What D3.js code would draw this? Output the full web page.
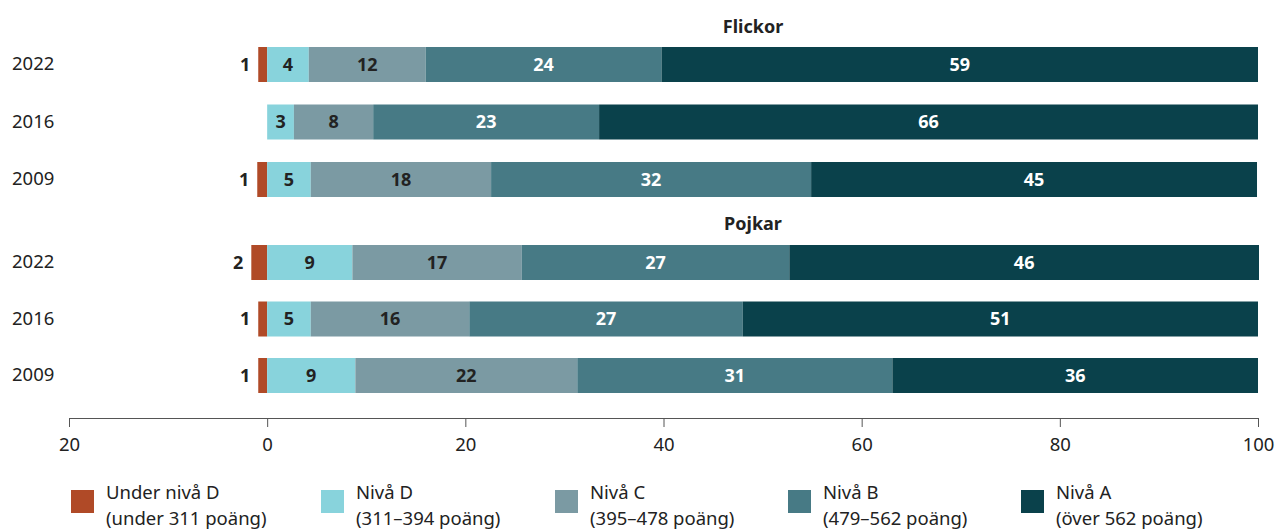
<!DOCTYPE html>
<html>
<head>
<meta charset="utf-8">
<script src="https://cdn.jsdelivr.net/npm/d3@7"></script>
<style>
    body { margin: 0; background: #fff; }
    svg { display: block; font-family: "Source Sans Pro", "Noto Sans", sans-serif; }
</style>
</head>
<body>
<div id="chart"></div>
<script>
// levels, left to right (first one is drawn to the left of zero)
const levels = ["Under nivå D", "Nivå D", "Nivå C", "Nivå B", "Nivå A"];
const levelRanges = ["(under 311 poäng)", "(311–394 poäng)", "(395–478 poäng)", "(479–562 poäng)", "(över 562 poäng)"];
const levelColors = ["#b04a27", "#88d3dc", "#7b9aa3", "#477a85", "#0a414b"];
const labelColors = ["#222", "#222", "#222", "#fff", "#fff"];

const years = ["2022", "2016", "2009"];
const groups = ["Flickor", "Pojkar"];

// bar lengths (per year: under D, D, C, B, A)
const flickorValues = [
    [0.9, 4.2, 11.8, 23.8, 60.2],
    [0, 2.7, 8.0, 22.8, 66.5],
    [1.0, 4.4, 18.2, 32.3, 45.0]
];
const pojkarValues = [
    [1.6, 8.6, 17.1, 27.0, 47.4],
    [0.9, 4.4, 16.0, 27.6, 52.0],
    [0.9, 8.9, 22.4, 31.8, 36.9]
];
// printed numbers
const flickorLabels = [
    ["1", "4", "12", "24", "59"],
    ["", "3", "8", "23", "66"],
    ["1", "5", "18", "32", "45"]
];
const pojkarLabels = [
    ["2", "9", "17", "27", "46"],
    ["1", "5", "16", "27", "51"],
    ["1", "9", "22", "31", "36"]
];
const xTicks = [-20, 0, 20, 40, 60, 80, 100];

const width = 1278, height = 529;
const barHeight = 35;
const fontSize = 18.5;

const svg = d3.select("#chart").append("svg")
    .attr("width", width)
    .attr("height", height);

const x = d3.scaleLinear().domain([-20, 100]).range([69, 1258]);

const groupScales = [
    d3.scalePoint().domain(years).range([64.5, 179.5]),
    d3.scalePoint().domain(years).range([262.5, 375.5])
];
const titleY = [26, 223];
const groupValues = [flickorValues, pojkarValues];
const groupLabels = [flickorLabels, pojkarLabels];

groups.forEach((g, gi) => {
    let y = groupScales[gi];

    svg.append("text")
        .attr("x", 753)
        .attr("y", titleY[gi])
        .attr("text-anchor", "middle")
        .attr("dominant-baseline", "central")
        .attr("font-size", 18)
        .attr("font-weight", 700)
        .attr("fill", "#222")
        .text(g);

    years.forEach((yr, ri) => {
        let vals = groupValues[gi][ri];
        let labs = groupLabels[gi][ri];
        let cy = y(yr);

        // build segments: under D goes left of zero, the rest stack right
        let segs = [];
        segs.push({ i: 0, x0: -vals[0], x1: 0 });
        let acc = 0;
        for (let i = 1; i < vals.length; i++) {
            segs.push({ i: i, x0: acc, x1: acc + vals[i] });
            acc += vals[i];
        }

        let row = svg.append("g");

        row.append("text")
            .attr("x", 12)
            .attr("y", cy - 2)
            .attr("dominant-baseline", "central")
            .attr("font-size", fontSize)
            .attr("fill", "#222")
            .text(yr);

        row.selectAll("rect")
            .data(segs.filter(d => d.x1 > d.x0))
            .enter().append("rect")
            .attr("x", d => x(d.x0))
            .attr("y", cy - barHeight / 2)
            .attr("width", d => x(d.x1) - x(d.x0))
            .attr("height", barHeight)
            .attr("fill", d => levelColors[d.i]);

        row.selectAll("text.val")
            .data(segs.filter(d => labs[d.i] !== ""))
            .enter().append("text")
            .attr("class", "val")
            .attr("x", d => d.i === 0 ? x(d.x0) - 8 : (x(d.x0) + x(d.x1)) / 2)
            .attr("y", cy - 1)
            .attr("text-anchor", d => d.i === 0 ? "end" : "middle")
            .attr("dominant-baseline", "central")
            .attr("font-size", 18)
            .attr("font-weight", 700)
            .attr("fill", d => labelColors[d.i])
            .text(d => labs[d.i]);
    });
});

// x axis
let axis = svg.append("g")
    .attr("transform", "translate(0,418)")
    .call(d3.axisBottom(x).tickValues(xTicks).tickSize(9).tickSizeOuter(0)
        .tickFormat(d => Math.abs(d)));
axis.select(".domain").attr("stroke", "#555");
axis.selectAll(".tick line").attr("stroke", "#555");
axis.selectAll(".tick text")
    .attr("font-family", "\"Source Sans Pro\", \"Noto Sans\", sans-serif")
    .attr("font-size", fontSize)
    .attr("fill", "#222")
    .attr("dy", "1.15em");

// legend
const legendX = [71, 321, 555, 788, 1021];
let legend = svg.append("g");
levels.forEach((lv, i) => {
    let item = legend.append("g").attr("transform", "translate(" + legendX[i] + ",490)");
    item.append("rect")
        .attr("width", 23)
        .attr("height", 23)
        .attr("fill", levelColors[i]);
    item.append("text")
        .attr("x", 35)
        .attr("y", 1)
        .attr("dominant-baseline", "central")
        .attr("font-size", fontSize)
        .attr("fill", "#222")
        .text(lv);
    item.append("text")
        .attr("x", 35)
        .attr("y", 27)
        .attr("dominant-baseline", "central")
        .attr("font-size", fontSize)
        .attr("fill", "#222")
        .text(levelRanges[i]);
});
</script>
</body>
</html>
